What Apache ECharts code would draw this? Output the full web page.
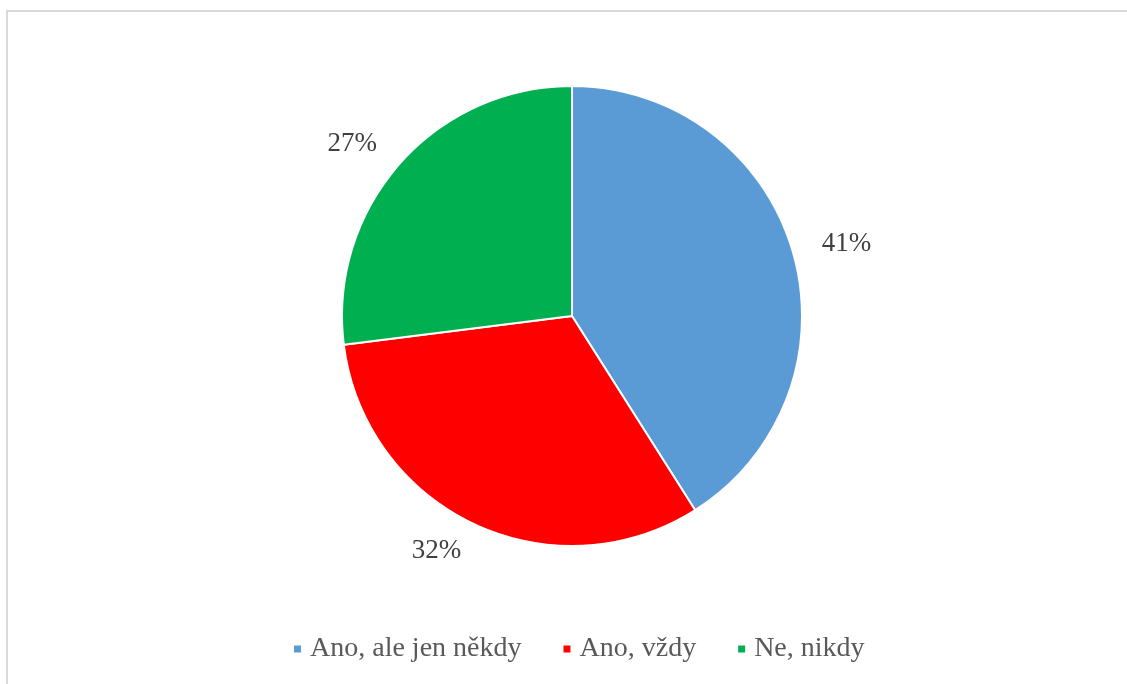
<!DOCTYPE html>
<html>
<head>
<meta charset="utf-8">
<script src="https://cdn.jsdelivr.net/npm/echarts@6/dist/echarts.min.js"></script>
<style>
  html, body { margin: 0; padding: 0; background: #fff; }
  #chart { width: 1127px; height: 684px; }
</style>
</head>
<body>
<div id="chart"></div>
<script>
// Survey answers and their shares (%)
const categories = ['Ano, ale jen někdy', 'Ano, vždy', 'Ne, nikdy'];
const shares = [41, 32, 27];
const colors = ['#5B9BD5', '#FF0000', '#00B050'];

const chart = echarts.init(document.getElementById('chart'), null, { renderer: 'canvas' });

const textFont = '"Liberation Serif", "Times New Roman", serif';

chart.setOption({
  animation: false,
  backgroundColor: '#ffffff',
  color: colors,
  graphic: [
    // chart frame (top and left edges)
    { type: 'rect', shape: { x: 6, y: 10, width: 1121, height: 2 }, style: { fill: '#d9d9d9' }, silent: true },
    { type: 'rect', shape: { x: 6, y: 10, width: 2, height: 674 }, style: { fill: '#d9d9d9' }, silent: true }
  ],
  legend: {
    data: categories,
    left: 287,
    top: 630,
    itemWidth: 9,
    itemHeight: 9,
    itemGap: 40,
    icon: 'rect',
    textStyle: { fontFamily: textFont, fontSize: 28, color: '#595959', padding: [0, 0, 0, 3] }
  },
  series: [{
    type: 'pie',
    center: [572, 316],
    radius: [0, 230],
    startAngle: 90,
    clockwise: true,
    avoidLabelOverlap: false,
    itemStyle: { borderColor: '#ffffff', borderWidth: 2 },
    label: {
      show: true,
      position: 'outside',
      formatter: '{c}%',
      fontFamily: textFont,
      fontSize: 27,
      color: '#404040',
      distanceToLabelLine: 0
    },
    labelLine: { show: false, length: 30, length2: 0 },
    emphasis: { disabled: true },
    data: categories.map((name, i) => ({ name: name, value: shares[i] }))
  }]
});
</script>
</body>
</html>
